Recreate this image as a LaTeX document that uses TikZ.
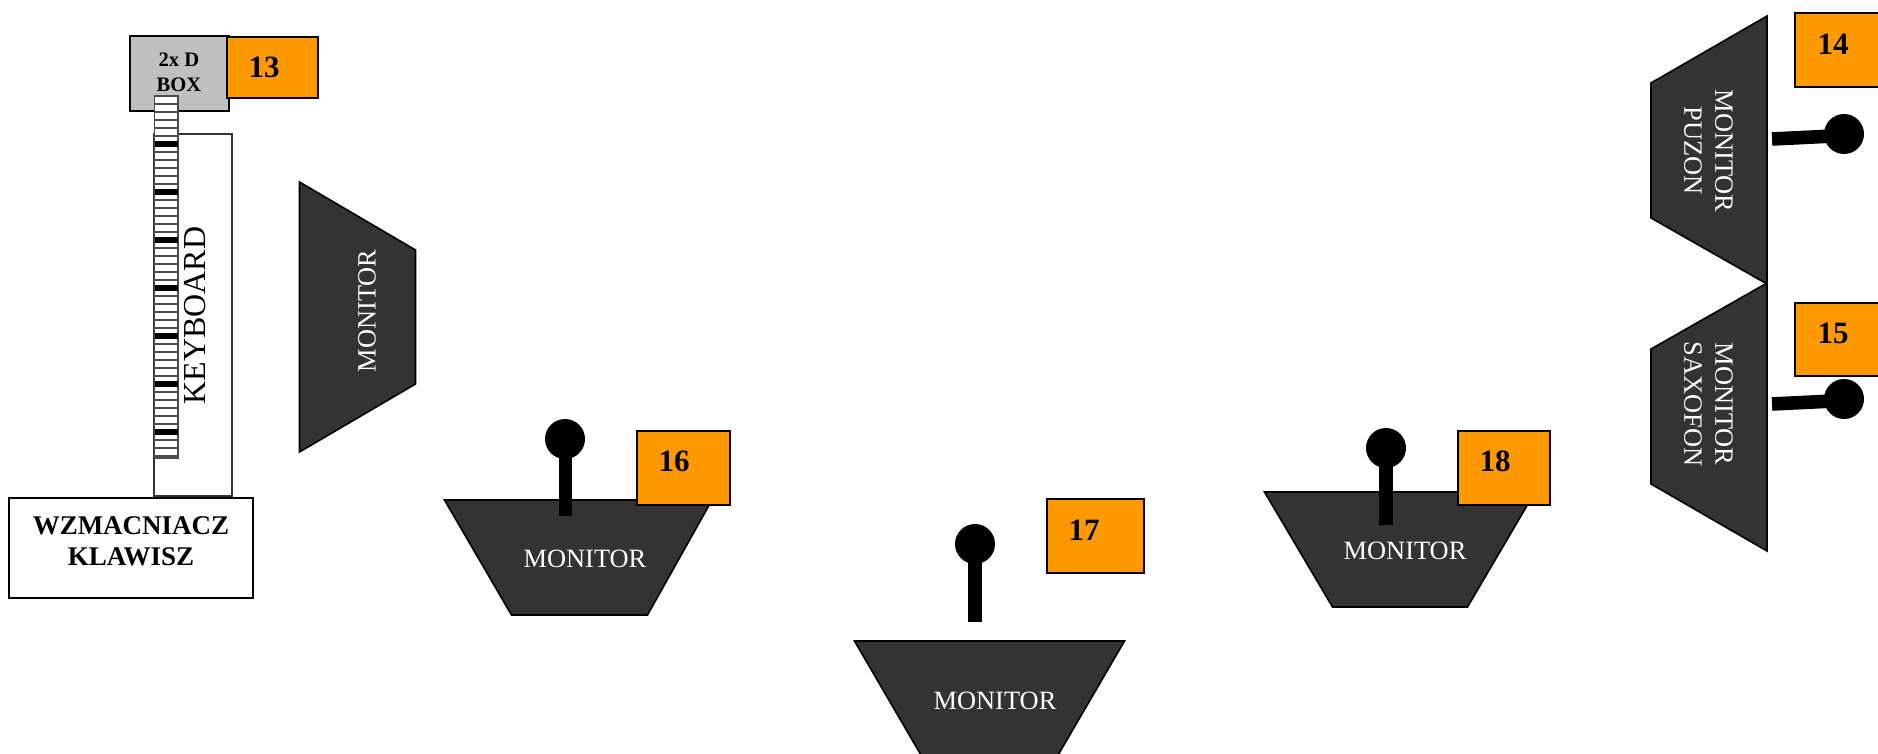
\documentclass[tikz,border=0pt]{standalone}
\usepackage{fontspec}
\setmainfont{Liberation Serif}
\definecolor{mon}{HTML}{333333}
\definecolor{org}{HTML}{FF9900}
\definecolor{boxg}{HTML}{C0C0C0}
\tikzset{
  monshape/.style={draw=black,fill=mon,line width=.8pt,line join=miter},
  tagbox/.style={draw=black,fill=org,line width=.85pt},
  plainbox/.style={draw=black,fill=white,line width=1pt},
  kbbox/.style={draw=black!80,fill=white,line width=.8pt},
  graybox/.style={draw=black,fill=boxg,line width=1pt},
  montext/.style={text=white,inner sep=0pt,font=\fontsize{13.2}{15.5}\selectfont,align=center},
  tagtext/.style={text=black,inner sep=0pt,font=\fontsize{15.5}{17}\selectfont\bfseries},
  stem/.style={draw=black,line width=6.8pt},
  ball/.style={fill=black},
  keyline/.style={draw=black!70,line width=1.4pt},
  keyblack/.style={draw=black,line width=2.8pt}
}
\begin{document}
\begin{tikzpicture}[x=.5pt,y=-.5pt]
\useasboundingbox (0,0) rectangle (1878,754);
\clip (0,0) rectangle (1878,754);
% keyboard
\draw[kbbox] (154,134) rectangle (232,496);
\node[rotate=90,inner sep=0pt,font=\fontsize{16}{18}\selectfont] (kb) at (195,315.5) {KEYBOARD};
% 2x D box
\draw[graybox] (130,36) rectangle (229,111);
\node[inner sep=0pt,align=center,font=\fontsize{10.3}{12.4}\selectfont\bfseries] (dbox) at (179,72.5) {2x D\\BOX};
\draw[tagbox] (227,37) rectangle (318,98);
\node[tagtext] (t13) at (264,67) {13};
% keys
\draw[draw=black!70,fill=white,line width=.7pt] (154.5,96) rectangle (178,458);
\foreach \k in {0,...,45}{
  \draw[keyline] (154.5,96+\k*8) -- (178,96+\k*8);
}
\foreach \k in {1,...,7}{
  \draw[keyblack] (154.5,96+\k*48) -- (178,96+\k*48);
}
% amp
\draw[plainbox] (9,498) rectangle (253,598);
\node[inner sep=0pt,align=center,font=\fontsize{13.5}{15.5}\selectfont\bfseries] (amp) at (131,541.5) {WZMACNIACZ\\KLAWISZ};
% left monitor
\draw[monshape] (299.5,182) -- (415.5,250) -- (415.5,384) -- (299.5,452) -- cycle;
\node[montext,rotate=90] (m0) at (367,311) {MONITOR};
% monitor 16
\draw[monshape] (444.5,500) -- (712,500) -- (647.5,615) -- (511.5,615) -- cycle;
\node[montext] (m16) at (585,558.5) {MONITOR};
\draw[stem] (565.5,439) -- (565.5,516);
\fill[ball] (565,439) circle (20);
\draw[tagbox] (637,431) rectangle (730,505);
\node[tagtext] (t16) at (674,461) {16};
% monitor 17
\draw[monshape] (854.5,641) -- (1124.5,641) -- (1057.5,756) -- (921.5,756) -- cycle;
\node[montext] (m17) at (995,700.5) {MONITOR};
\draw[stem] (975,544) -- (975,622);
\fill[ball] (975,544) circle (20);
\draw[tagbox] (1047,499) rectangle (1144,573);
\node[tagtext] (t17) at (1084,530) {17};
% monitor 18
\draw[monshape] (1264.5,492) -- (1535,492) -- (1467.5,607) -- (1332.5,607) -- cycle;
\node[montext] (m18) at (1405,550.5) {MONITOR};
\draw[stem] (1386,448) -- (1386,525);
\fill[ball] (1386,448) circle (20);
\draw[tagbox] (1458,431) rectangle (1550,505);
\node[tagtext] (t18) at (1495,461) {18};
% right monitors
\draw[monshape] (1767,16) -- (1767,284) -- (1651,218) -- (1651,83) -- cycle;
\draw[monshape] (1767,283) -- (1767,551) -- (1651,484) -- (1651,349) -- cycle;
\node[montext,rotate=-90] (m14) at (1708.5,151) {MONITOR\\PUZON};
\node[montext,rotate=-90] (m15) at (1708.5,404) {MONITOR\\SAXOFON};
\draw[tagbox] (1795,13) rectangle (1895,87);
\node[tagtext] (t14) at (1833,44) {14};
\draw[tagbox] (1795,303) rectangle (1895,376);
\node[tagtext] (t15) at (1833,333) {15};
\draw[stem] (1772,139) -- (1844,135.5);
\fill[ball] (1844,134) circle (20);
\draw[stem] (1772,404) -- (1844,400.5);
\fill[ball] (1844,399) circle (20);
\end{tikzpicture}
\end{document}
